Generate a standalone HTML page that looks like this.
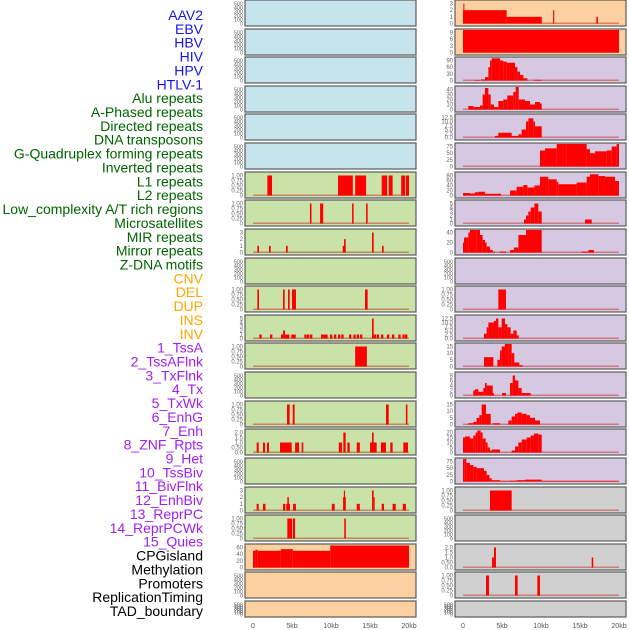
<!DOCTYPE html>
<html><head><meta charset="utf-8"><style>
html,body{margin:0;padding:0;background:#fff;width:630px;height:630px;overflow:hidden}
svg{display:block}
</style></head><body>
<svg id="chart" width="630" height="630" xmlns="http://www.w3.org/2000/svg"></svg>
<script>
// ---- data ----
const labels = ["AAV2","EBV","HBV","HIV","HPV","HTLV-1","Alu repeats","A-Phased repeats","Directed repeats","DNA transposons","G-Quadruplex forming repeats","Inverted repeats","L1 repeats","L2 repeats","Low_complexity A/T rich regions","Microsatellites","MIR repeats","Mirror repeats","Z-DNA motifs","CNV","DEL","DUP","INS","INV","1_TssA","2_TssAFlnk","3_TxFlnk","4_Tx","5_TxWk","6_EnhG","7_Enh","8_ZNF_Rpts","9_Het","10_TssBiv","11_BivFlnk","12_EnhBiv","13_ReprPC","14_ReprPCWk","15_Quies","CPGisland","Methylation","Promoters","ReplicationTiming","TAD_boundary"];
const labelColors = ["#1515ee","#1515ee","#1515ee","#1515ee","#1515ee","#1515ee","#006400","#006400","#006400","#006400","#006400","#006400","#006400","#006400","#006400","#006400","#006400","#006400","#006400","#ffa500","#ffa500","#ffa500","#ffa500","#ffa500","#a020f0","#a020f0","#a020f0","#a020f0","#a020f0","#a020f0","#a020f0","#a020f0","#a020f0","#a020f0","#a020f0","#a020f0","#a020f0","#a020f0","#a020f0","#000","#000","#000","#000","#000"];
const xTickValues = [0,5,10,15,20];
const xTickLabels = ["0","5kb","10kb","15kb","20kb"];
const leftBg = ["b","b","b","b","b","b","g","g","g","g","g","g","g","g","g","g","g","g","g","o","o","o"];
const rightBg = ["o","o","p","p","p","p","p","p","p","p","p","p","p","p","p","p","p","g2","g2","g2","g2","g2"];
const emptyTicks = [0,100,200,300,400,500];
const leftTicks = [emptyTicks,emptyTicks,emptyTicks,emptyTicks,emptyTicks,emptyTicks,
 [0,0.25,0.5,0.75,1],[0,0.25,0.5,0.75,1],[0,1,2,3],emptyTicks,[0,0.25,0.5,0.75,1],[0,1,2,3,4,5],
 [0,0.25,0.5,0.75,1],emptyTicks,[0,0.25,0.5,0.75,1],[0,0.5,1,1.5,2],emptyTicks,[0,1,2,3],[0,0.25,0.5,0.75,1],
 [0,20,40,60],emptyTicks,emptyTicks];
const rightTicks = [[0,1,2,3],[0,3,6,9],[0,30,60,90],[0,10,20,30,40],[0,2.5,5,7.5,10,12.5],[0,25,50,75],
 [0,20,40,60,80],[0,1,2,3,4,5],[0,20,40],emptyTicks,[0,0.25,0.5,0.75,1],[0,2.5,5,7.5,10,12.5],[0,5,10,15],
 [0,2,4,6,8],[0,5,10,15],[0,5,10,15,20],[0,25,50,75],[0,0.25,0.5,0.75,1],emptyTicks,[0,0.5,1,1.5,2],[0,0.25,0.5,0.75,1],emptyTicks];
const inv = [0.81,2.18,3.59,4.10,4.36,4.91,5.17,6.58,6.92,7.31,8.72,9.02,9.27,9.87,10.38,10.90,11.32,12.31,12.86,13.29,13.72,15.47,15.85,16.41,17.18,17.82,18.63,19.15,19.49];
const leftSegs = [null,null,null,null,null,null,
 [[1.84,2.44,1],[10.9,12.8,1],[13.1,14.5,1],[16.5,17.2,1],[17.4,17.9,1],[19.0,19.5,1],[19.6,20.0,1]],
 [[7.3,7.5,1],[8.6,9.0,1],[12.7,12.9,1],[14.5,14.7,1]],
 [[0.56,0.77,1],[2.05,2.27,1],[4.23,4.45,1],[11.5,11.88,1],[11.67,11.88,2],[15.26,15.47,3],[16.54,16.75,1]],
 null,
 [[0.56,0.77,1],[3.85,4.06,1],[4.49,4.70,1],[5.0,5.51,1],[14.36,14.70,1]],
 inv.map(s=>[s,s+0.3,1]).concat([[3.85,4.1,2],[15.26,15.47,5]]),
 [[13.1,14.6,1]],
 null,
 [[4.36,4.70,1],[5.09,5.34,1],[17.05,17.4,1],[19.6,19.8,1]],
 [[0.47,0.73,1],[1.28,1.54,1],[1.8,2.05,1],[3.46,4.96,1],[5.4,5.9,1],[6.24,6.45,1],[11.0,11.4,1],[11.58,11.88,2],[12.1,12.4,1],[13.3,13.7,1],[15.0,15.86,1],[15.26,15.47,2],[16.4,17.05,1],[17.6,17.9,1],[19.27,19.87,1]],
 null,
 [[0.47,0.73,1],[1.28,1.6,1],[3.85,4.14,1],[4.27,4.74,1],[4.4,4.6,2],[5.13,5.5,1],[10.1,10.47,1],[11.55,11.9,2],[11.65,11.8,3],[13.3,13.7,1],[15.26,15.47,3],[15.47,15.6,2],[16.5,16.8,1],[17.9,18.3,1],[19.2,19.6,1]],
 [[4.4,5.0,1],[5.1,5.4,1],[11.7,11.9,1]],
 [[0,0.3,50],[0.3,0.6,53],[0.6,3.55,50],[3.55,5.1,55],[5.1,9.9,50],[9.9,20,66]],
 null,null];
const rightSegs = [
 [[0,5.6,2],[0.05,0.15,3],[5.6,10.1,1],[11.55,11.7,2],[17.1,17.3,1]],
 [[0,20,10.5]],
 [[1.45,2.18,2],[2.31,2.82,5],[2.82,3.25,15],[3.25,3.46,60],[3.46,3.68,90],[3.68,4.74,100],[4.74,5.17,90],[5.17,5.6,85],[5.6,6.67,80],[6.67,6.97,60],[6.97,7.31,40],[7.31,7.74,25],[7.74,8.25,10],[9.1,10.09,3]],
 [[0.68,1.32,7],[1.32,2.18,5],[2.18,2.52,8],[2.52,2.82,30],[2.82,3.25,43],[3.25,3.55,30],[3.55,3.97,10],[3.97,4.53,5],[4.53,5.17,17],[5.17,5.68,20],[5.68,6.45,28],[6.45,6.75,35],[6.75,7.14,48],[7.14,7.95,20],[7.95,8.59,17],[8.59,9.23,10],[9.23,9.87,15],[9.87,10.09,12]],
 [[4.1,4.53,1],[4.53,4.96,3],[4.96,6.24,3],[6.24,7.1,1],[7.1,7.52,2],[7.52,8.08,5],[8.08,8.38,10],[8.38,9.02,12],[9.02,9.23,10],[9.23,10.09,7]],
 [[9.87,10.51,60],[10.51,12.01,68],[12.01,13.29,95],[13.29,15.0,90],[15.0,15.85,85],[15.85,16.28,65],[16.28,16.92,50],[16.92,18.42,57],[18.42,19.06,60],[19.06,19.7,75],[19.7,20,85]],
 [[0,0.9,10],[0.9,1.54,8],[1.54,1.97,13],[1.97,2.82,15],[2.82,4.87,7],[6.03,6.88,20],[6.88,7.74,35],[7.74,8.25,42],[8.25,9.15,32],[9.15,9.87,40],[9.87,10.94,75],[10.94,12.01,65],[12.01,12.22,55],[12.22,14.57,45],[14.57,15.85,52],[15.85,16.28,75],[16.28,17.35,85],[17.35,18.2,78],[18.2,19.49,75],[19.49,20,58]],
 [[7.82,8.08,1],[8.08,8.38,2],[8.38,8.68,3],[8.68,9.15,4],[9.15,9.66,5],[9.66,10.09,3],[15.64,16.5,1]],
 [[0,0.13,20],[0.13,0.68,30],[0.68,0.9,40],[0.9,1.75,48],[1.75,2.18,45],[2.18,2.52,35],[2.52,2.82,25],[2.82,3.03,20],[3.03,3.46,12],[3.46,3.81,5],[3.81,4.1,2],[4.66,5.51,2],[6.03,6.54,5],[6.54,7.1,10],[7.1,8.08,35],[8.08,8.59,45],[8.59,9.23,48],[9.23,10.09,45],[15.21,16.07,2],[16.07,16.79,5]],
 null,
 [[4.53,5.51,1]],
 [[2.69,3.03,3],[3.03,3.25,7],[3.25,3.97,10],[3.97,4.23,11],[4.23,4.53,12.5],[4.53,4.96,7],[4.96,5.38,12.5],[5.38,5.68,9],[5.68,6.11,7],[6.11,6.45,3],[6.45,6.88,5],[6.88,7.14,2]],
 [[2.69,3.89,7],[4.41,4.74,5],[4.74,4.96,12],[4.96,5.38,15],[5.38,5.81,17],[5.81,6.24,20],[6.24,6.58,10],[6.58,7.22,3],[7.22,7.65,1]],
 [[1.32,1.54,2],[1.54,1.97,2.5],[1.97,2.6,1.5],[2.6,2.82,3],[2.82,3.03,5],[3.03,3.81,4],[3.81,3.97,1],[5.0,5.51,1],[6.03,6.37,5],[6.37,6.67,8],[6.67,7.1,6],[7.1,7.52,3],[7.52,8.68,1]],
 [[0.68,1.32,1],[1.32,1.75,2],[1.75,2.09,5],[2.09,2.39,7],[2.39,2.95,15],[2.95,3.55,8],[3.81,4.74,1],[5.81,6.24,3],[6.24,6.67,6],[6.67,6.97,8],[6.97,7.52,9],[7.52,8.16,8],[8.16,8.59,7],[8.59,9.23,5],[9.23,9.87,3]],
 [[0,0.26,15],[0.26,0.9,16],[0.9,1.32,14],[1.32,1.62,17],[1.62,1.84,20],[1.84,2.26,22],[2.26,2.52,20],[2.52,2.91,14],[2.91,3.16,10],[3.16,3.46,5],[3.46,3.72,2],[3.72,4.74,3],[6.24,6.67,2],[6.67,7.09,6],[7.09,7.52,10],[7.52,8.16,13],[8.16,8.68,15],[8.68,9.1,17],[9.1,9.66,19],[9.66,10.09,18]],
 [[0,0.17,95],[0.17,0.43,85],[0.43,0.9,70],[0.9,1.32,62],[1.32,1.75,55],[1.75,2.69,50],[2.69,3.03,40],[3.03,3.38,25],[3.38,3.68,12],[3.68,4.74,5],[4.74,6.03,2],[6.03,6.88,3],[6.88,7.95,5],[7.95,10.09,7],[10.09,20,2]],
 [[3.46,6.24,1]],
 null,
 [[3.72,3.97,1],[3.97,4.23,2],[16.5,16.7,1]],
 [[2.95,3.33,1],[6.67,7.01,1],[9.53,9.87,1]],
 null];
// ---- layout ----
const svg = document.getElementById('chart');
const NS = 'http://www.w3.org/2000/svg';
const bgColors = {b:'#c6e4ec',g:'#c9e2a8',o:'#fdd09f',p:'#d7c8e2',g2:'#d0d0d0'};
function mk(tag, attrs, parent){const e=document.createElementNS(NS,tag);for(const k in attrs)e.setAttribute(k,attrs[k]);(parent||svg).appendChild(e);return e;}
function rowTop(i){return Math.round(i*28.62);}

labels.forEach((t,i)=>{
  const el = mk('text',{x:203,y:15+i*13.86+5,'text-anchor':'end','font-size':'14','font-family':'Liberation Sans, sans-serif',fill:labelColors[i]});
  el.textContent = t;
  
  
});

function drawColumn(x0, bgs, ticks, segs, side){
  const W = 171;
  const xs = kb => x0 + 8 + kb*7.8;
  for(let i=0;i<bgs.length;i++){
    const top = rowTop(i);
    const h = i===bgs.length-1 ? 16 : 26;
    const g = mk('g',{});
    
    
    mk('rect',{x:x0,y:top,width:W,height:h,fill:bgColors[bgs[i]],stroke:'#5a5a5a','stroke-width':1.2},g);
    const tk = ticks[i];
    const tmax = tk[tk.length-1];
    const zeroY = top + h - 2.5;
    const span = h - 6;
    const ys = v => zeroY - v/tmax*span;
    tk.forEach(v=>{
      const t = mk('text',{x:x0-2,y:ys(v)+2,'text-anchor':'end','font-size': tk===emptyTicks ? '5.5':'6','font-family':'Liberation Sans, sans-serif',fill:'#666'},g);
      t.textContent = String(v===0.25||v===0.75||v===0.5||v===1&&tmax===1 ? v.toFixed(2) : v===12.5||v===2.5||v===7.5||(tmax===12.5) ? v.toFixed(1) : (tmax===2?v.toFixed(1):v));
      
      
    });
    const s = segs[i];
    if(s){
      const base = mk('rect',{x:xs(0),y:zeroY-1,width:xs(20)-xs(0),height:1.5,fill:'rgba(200,40,40,0.5)'},g);
      
      
      s.forEach(d=>{
        const a=Math.max(0,d[0]), b=Math.min(20,d[1]);
        const yv = Math.max(top+1, ys(d[2]));
        const r = mk('rect',{x:xs(a),y:yv,width:Math.max(1,xs(b)-xs(a)),height:zeroY-yv,fill:'#ff0000'},g);
        
        
      });
    }
  }
  xTickValues.forEach((v,j)=>{
    const t = mk('text',{x:xs(v),y:628,'text-anchor':'middle','font-size':'7','font-family':'Liberation Sans, sans-serif',fill:'#555'});
    t.textContent = xTickLabels[j];
    
    
  });
}
drawColumn(245, leftBg, leftTicks, leftSegs, 'left');
drawColumn(455, rightBg, rightTicks, rightSegs, 'right');
</script>
</body></html>
